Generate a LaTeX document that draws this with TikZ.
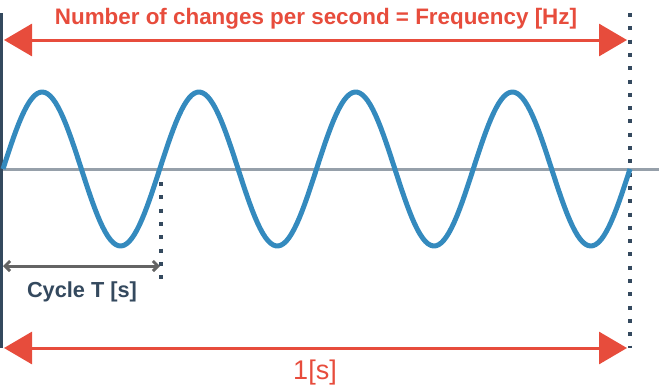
\documentclass[tikz,border=0pt]{standalone}
\usepackage{fontspec}
\setmainfont{Liberation Sans}
\usetikzlibrary{arrows.meta}
\definecolor{hzred}{RGB}{231,76,60}
\definecolor{wave}{RGB}{52,138,190}
\definecolor{axisgray}{RGB}{150,160,170}
\definecolor{navy}{RGB}{52,73,94}
\definecolor{cyclegray}{RGB}{100,100,100}
\tikzset{
  span/.style={hzred,line width=3pt,{Triangle[length=28pt,width=32pt]}-{Triangle[length=28pt,width=32pt]}},
  marker/.style={navy,line width=3.2pt,dash pattern=on 4pt off 9.3pt},
}
\begin{document}
\begin{tikzpicture}[x=1pt,y=-1pt]
\useasboundingbox (0,0) rectangle (659,386);
\def\T{156.75}  % one cycle
\def\A{77}      % amplitude
% axis and edges
\coordinate (axL) at (0,169);
\coordinate (axR) at (659,169);
\draw[axisgray,line width=3pt] (axL) -- (axR);
\coordinate (edgeT) at (1.5,13);
\coordinate (edgeB) at (1.5,348);
\draw[navy,line width=2.5pt] (edgeT) -- (edgeB);
\coordinate (endT) at (630,13);
\coordinate (endB) at (630,348);
\draw[marker] (endT) -- (endB);
\coordinate (cycT) at (161,182);
\coordinate (cycB) at (161,282);
\draw[marker] (cycT) -- (cycB);
% the wave
\draw[wave,line width=5pt,line join=round]
  plot[domain=0:1440,samples=240] ({3+\x/360*\T},{169-\A*sin(\x)});
% frequency
\node[anchor=base,hzred,font=\fontsize{22.4}{24}\selectfont\bfseries] (title) at (316,24)
  {Number of changes per second = Frequency [Hz]};
\coordinate (fL) at (4,40);
\coordinate (fR) at (627,40);
\draw[span] (fL) -- (fR);
% one cycle
\coordinate (cL) at (3,266);
\coordinate (cR) at (160,266);
\draw[cyclegray,line width=3pt,{Straight Barb[length=5pt,width=10pt]}-{Straight Barb[length=5pt,width=10pt]}] (cL) -- (cR);
\node[anchor=base,navy,font=\fontsize{21.75}{24}\selectfont\bfseries] (cycle) at (82,297) {Cycle T [s]};
% one second
\coordinate (sL) at (4,348);
\coordinate (sR) at (627,348);
\draw[span] (sL) -- (sR);
\node[anchor=base,hzred,font=\fontsize{27}{30}\selectfont] (second) at (315,379) {1[s]};
\end{tikzpicture}
\end{document}
